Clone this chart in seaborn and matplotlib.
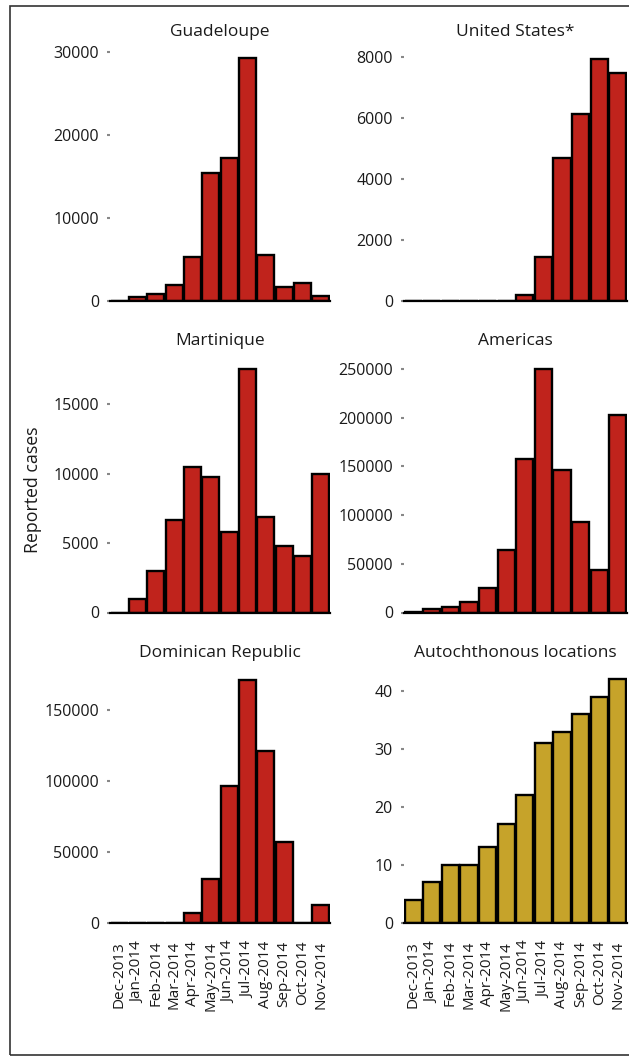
import matplotlib
matplotlib.use("Agg")
import matplotlib.pyplot as plt
from matplotlib.patches import Rectangle
import seaborn as sns
import pandas as pd

months = ["Dec-2013", "Jan-2014", "Feb-2014", "Mar-2014", "Apr-2014", "May-2014",
          "Jun-2014", "Jul-2014", "Aug-2014", "Sep-2014", "Oct-2014", "Nov-2014"]

guadeloupe = [0, 500, 880, 1950, 5350, 15400, 17250, 29300, 5550, 1700, 2200, 600]
united_states = [0, 0, 0, 0, 0, 0, 200, 1440, 4700, 6130, 7930, 7470]
martinique = [0, 960, 2950, 6620, 10460, 9740, 5780, 17540, 6860, 4800, 4100, 9980]
americas = [500, 3400, 6100, 11200, 24900, 64200, 158000, 249700, 146000, 93200, 43700, 203000]
dominican_republic = [0, 0, 0, 0, 7050, 30800, 96600, 171200, 121100, 56700, 0, 12700]
autochthonous = [4, 7, 10, 10, 13, 17, 22, 31, 33, 36, 39, 42]

RED = "#c0231c"
GOLD = "#c6a32a"

W, H = 629, 1057
plt.rcParams["font.family"] = ["Open Sans", "DejaVu Sans"]

fig = plt.figure(figsize=(W / 100, H / 100), dpi=100)

# frame around the figure (right side runs off the image)
fig.add_artist(Rectangle((10 / W, 1 - 1055 / H), 1.2, 1055 / H - 6 / H,
                         transform=fig.transFigure, fill=False,
                         edgecolor="#333333", linewidth=1.2))

cols = [(110, 220), (404, 223)]
rows = [(48, 301), (365, 612.5), (676, 922.7)]

panels = [
    ("Guadeloupe", guadeloupe, RED, 0, 0, [0, 10000, 20000, 30000], 30000, 52),
    ("United States*", united_states, RED, 0, 1, [0, 2000, 4000, 6000, 8000], 8000, 57),
    ("Martinique", martinique, RED, 1, 0, [0, 5000, 10000, 15000], 15000, 404),
    ("Americas", americas, RED, 1, 1, [0, 50000, 100000, 150000, 200000, 250000], 250000, 369),
    ("Dominican Republic", dominican_republic, RED, 2, 0, [0, 50000, 100000, 150000], 150000, 710),
    ("Autochthonous locations", autochthonous, GOLD, 2, 1, [0, 10, 20, 30, 40], 40, 691),
]
title_y = [32, 341, 653]

for title, vals, color, r, c, ticks, ref_val, ref_px in panels:
    top, bottom = rows[r]
    x0, w = cols[c]
    ax = fig.add_axes([x0 / W, 1 - bottom / H, w / W, (bottom - top) / H])
    df = pd.DataFrame({"month": months, "cases": vals})
    sns.barplot(data=df, x="month", y="cases", color=color, edgecolor="black",
                linewidth=1.7, width=0.92, saturation=1, ax=ax)
    ax.set_xlim(-0.5, len(months) - 0.5)
    # y range chosen so the reference tick lands where it is in the picture
    ax.set_ylim(0, ref_val * (bottom - top) / (bottom - ref_px))
    ax.set_yticks(ticks)
    ax.set_yticklabels([str(t) for t in ticks])
    ax.set_xlabel("")
    ax.set_ylabel("")
    for s in ["top", "right", "left"]:
        ax.spines[s].set_visible(False)
    ax.spines["bottom"].set_color("black")
    ax.spines["bottom"].set_linewidth(1.6)
    ax.tick_params(axis="y", length=2.5, width=1.5, color="#888888",
                   labelsize=11.5, labelcolor="#1a1a1a", pad=5.5)
    if r == 2:
        ax.tick_params(axis="x", length=0, pad=13, labelsize=11,
                       labelcolor="#1a1a1a", labelrotation=90)
    else:
        ax.tick_params(axis="x", length=0, labelbottom=False)
    ax.text(0.5, (bottom - title_y[r]) / (bottom - top), title,
            transform=ax.transAxes, ha="center", va="center",
            fontsize=12.5, color="#1a1a1a")

fig.text(33 / W, 1 - 490 / H, "Reported cases", rotation=90,
         ha="center", va="center", fontsize=12.8, color="#1a1a1a")

fig.savefig("out.png", dpi=100)
